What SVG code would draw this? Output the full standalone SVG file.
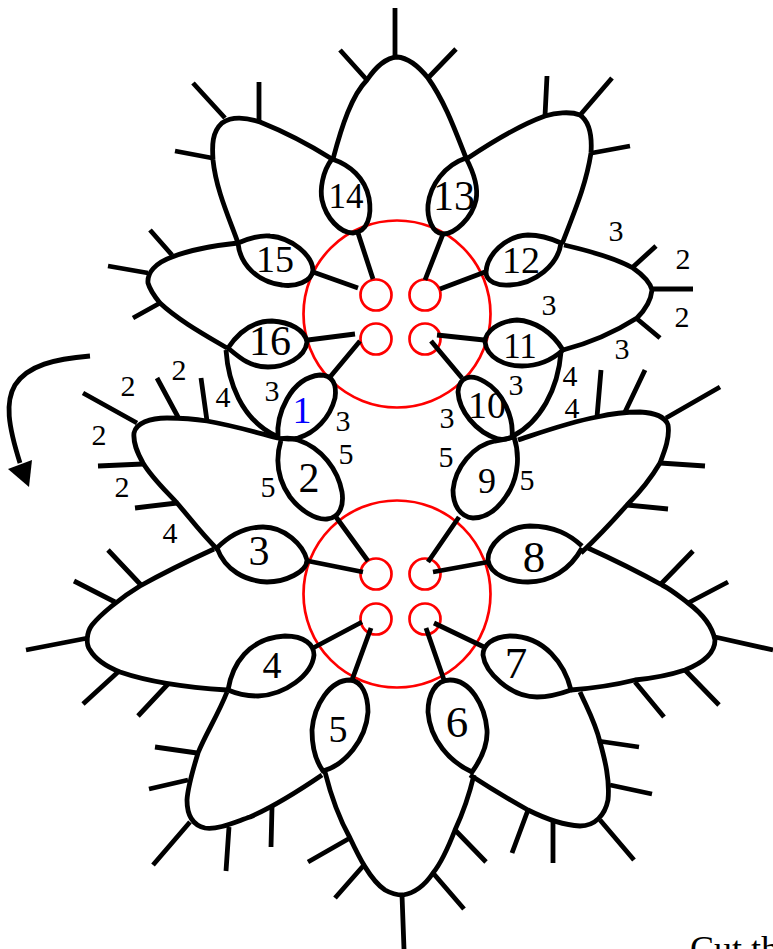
<svg xmlns="http://www.w3.org/2000/svg" width="773" height="949" viewBox="0 0 773 949">
<style>
.r{fill:none;stroke:#f00;stroke-width:2.7}
.k{fill:none;stroke:#000;stroke-width:4.8}
.p{fill:none;stroke:#000;stroke-width:4.8}
text{font-family:"Liberation Serif","Times New Roman",serif;fill:#000;text-anchor:middle}
.s{font-size:30px}
.m{font-size:38px}
.l{font-size:42px}
.x{font-size:45px}
</style>
<rect width="773" height="949" fill="#fff"/>
<g id="centers">
<circle class="r" cx="397" cy="314" r="93.500"/><circle class="r" cx="397" cy="594" r="93.500"/>
<circle class="r" cx="376" cy="295" r="15.500"/><circle class="r" cx="425" cy="295" r="15.500"/><circle class="r" cx="376" cy="339" r="15.500"/><circle class="r" cx="425" cy="339" r="15.500"/>
<circle class="r" cx="376" cy="574" r="15.500"/><circle class="r" cx="425" cy="574" r="15.500"/><circle class="r" cx="376" cy="619" r="15.500"/><circle class="r" cx="425" cy="619" r="15.500"/>
</g>
<g id="connectors">
<path class="p" d="M330,377L360,341M336,517L368,561M308,561L363,572M313,648L362,622M352,680L371,628M426,628L444,680M434,623L484,647M433,572L488,562M428,562L459,517M431,341L462,378M437,335L484,340M440,289L485,272M425,280L443,234M373,279L358,233M358,288L313,272M355,334L308,340"/>
<path class="p" d="M395,57L395,8M367,80L340,50M428,78L456,49M225,118L193,83M259,122L259,82M212,158L175,151M172,255L150,230M148,273L108,266M160,303L133,318M545,116L547,76M581,114L612,78M592,153L630,146M633,267L656,246M652,289L693,289M636,318L660,338M137,423L83,393M178,417L157,378M207,421L201,378M143,464L98,466M177,503L135,508M597,417L601,370M625,412L645,370M666,418L720,387M660,463L705,466M627,505L668,509M141,585L108,550M115,602L74,581M88,638L26,650M118,672L83,704M168,684L138,716M197,753L155,747M188,780L149,789M190,822L153,865M229,827L226,871M272,807L271,847M598,741L639,747M610,785L652,794M600,820L634,860M553,822L553,863M528,810L512,853M660,585L693,551M688,603L728,582M715,637L773,650M635,682L664,717M685,670L719,705M350,838L308,862M364,865L335,898M402,895L404,949M433,873L464,909M455,830L486,862"/>
<path class="k" d="M90,356C55,359 28,365 15,385C5,402 8,425 20,463"/>
<path d="M8,469L32,460L29,487Z" fill="#000"/>
</g>
<g id="chains">
<path class="k" d="M218,550C200,532 190,518 177,503C165,490 152,478 143,463C137,452 133,443 134,433C136,423 150,418 167,418C180,418 195,419 207,421C235,426 255,432 278,438"/>
<path class="k" d="M214,549C190,560 165,572 140,586C120,598 100,615 92,625C86,633 86,645 90,650C97,662 110,668 120,672C155,684 195,688 227,690"/>
<path class="k" d="M227,692C218,715 205,735 198,753C193,770 188,785 187,800C187,815 192,825 205,828C218,830 235,822 250,817C275,806 300,790 322,775"/>
<path class="k" d="M325,772C332,800 340,820 350,838C358,855 370,880 385,890C392,894 398,895 403,895C415,893 425,885 433,873C442,862 448,848 455,830C462,815 468,800 474,775"/>
<path class="k" d="M470,775C490,788 510,800 528,810C540,816 560,825 580,826C595,826 605,815 608,800C610,780 605,760 600,742C595,722 588,710 580,692"/>
<path class="k" d="M571,690C595,688 615,685 635,680C655,678 670,675 685,670C705,662 715,652 715,640C712,625 700,612 688,603C680,597 672,590 662,585C635,570 610,558 588,548"/>
<path class="k" d="M518,440C545,431 570,422 597,417C610,414 625,412 640,412C655,413 665,416 668,425C670,437 665,450 660,463C650,480 640,492 627,505C612,522 598,537 581,553"/>
<path class="k" d="M513,436C540,422 558,390 561,352"/>
<path class="k" d="M564,245C590,251 615,258 633,268C643,275 650,282 652,290C651,300 645,310 637,318C615,332 590,343 563,350"/>
<path class="k" d="M468,158C495,140 520,125 545,116C555,113 570,111 580,115C590,122 592,138 591,153C586,185 575,210 562,244"/>
<path class="k" d="M333,159C342,125 352,95 367,80C375,68 385,58 397,57C410,58 420,68 428,78C445,102 455,130 466,158"/>
<path class="k" d="M332,159C305,142 280,130 260,122C245,117 232,116 222,123C212,132 212,145 213,160C216,190 230,220 238,243"/>
<path class="k" d="M238,243C210,246 190,250 172,257C155,263 147,273 148,283C150,290 155,297 160,303C178,320 205,335 227,348"/>
<path class="k" d="M226,350C228,380 240,420 278,437"/>
</g>
<g id="ring-1"><path class="k" d="M278,438C276,415 290,378 320,375C333,375 337,385 335,398C330,418 315,433 298,438C290,440 283,439 278,438Z"/><text x="302" y="423" class="m" style="fill:#00f">1</text></g>
<g id="ring-2"><path class="k" d="M281,440C275,460 278,480 290,497C300,510 315,520 327,519C340,518 344,505 342,492C338,470 322,448 298,440C292,438 285,438 280,439"/><text x="309" y="492" class="l">2</text></g>
<g id="ring-3"><path class="k" d="M217,548C230,535 245,527 263,527C285,527 303,545 307,560C307,572 285,582 267,582C245,581 225,570 217,548Z"/><text x="259" y="565" class="l">3</text></g>
<g id="ring-4"><path class="k" d="M228,690C232,665 248,638 285,636C305,636 314,645 314,655C312,675 285,695 258,696C245,696 235,693 228,690Z"/><text x="272" y="678" class="m">4</text></g>
<g id="ring-5"><path class="k" d="M323,771C315,760 312,745 312,730C314,705 330,680 350,680C362,681 368,695 368,712C366,740 345,765 323,771Z"/><text x="338" y="742" class="m">5</text></g>
<g id="ring-6"><path class="k" d="M472,772C482,758 488,745 487,730C485,705 470,680 450,680C435,680 428,695 428,712C430,740 450,762 472,772Z"/><text x="457" y="737" class="x">6</text></g>
<g id="ring-7"><path class="k" d="M571,690C565,665 545,636 510,636C492,637 483,645 483,655C485,672 510,697 537,697C550,697 560,694 571,690Z"/><text x="516" y="678" class="x">7</text></g>
<g id="ring-8"><path class="k" d="M582,546C570,535 555,526 530,526C505,527 488,545 488,560C490,575 510,582 528,582C550,582 570,570 582,548"/><text x="534" y="572" class="x">8</text></g>
<g id="ring-9"><path class="k" d="M514,437C520,455 518,475 510,490C500,508 488,518 473,518C460,517 453,505 453,490C455,468 473,445 495,441C503,440 510,438 514,437Z"/><text x="487" y="493" style="font-size:36px">9</text></g>
<g id="ring-10"><path class="k" d="M512,437C514,418 503,392 485,382C470,373 459,377 458,392C459,410 475,432 498,439C505,440 510,438 512,437Z"/><text x="487" y="418" class="m">10</text></g>
<g id="ring-11"><path class="k" d="M563,350C552,332 535,321 517,320C498,321 485,332 485,342C487,358 505,366 522,366C540,366 552,360 563,350Z"/><text x="520" y="358" style="font-size:35px">11</text></g>
<g id="ring-12"><path class="k" d="M561,243C550,238 540,235 528,235C505,236 487,255 486,272C486,282 498,286 510,285C535,284 558,265 561,243Z"/><text x="521" y="273" class="m">12</text></g>
<g id="ring-13"><path class="k" d="M466,158C475,175 478,190 476,200C472,218 455,234 443,234C432,233 427,218 428,205C430,185 445,165 466,158Z"/><text x="454" y="210" class="l">13</text></g>
<g id="ring-14"><path class="k" d="M332,159C322,172 320,190 322,200C326,218 340,233 353,233C368,232 372,215 369,198C365,178 350,165 332,159Z"/><text x="346" y="208" style="font-size:35px">14</text></g>
<g id="ring-15"><path class="k" d="M238,243C250,238 262,235 270,236C292,238 312,255 313,270C312,282 295,287 282,285C258,282 240,265 238,243Z"/><text x="275" y="272" class="m">15</text></g>
<g id="ring-16"><path class="k" d="M228,348C240,330 255,321 272,321C290,322 305,330 307,342C305,358 285,367 268,367C250,367 240,358 228,348Z"/><text x="270" y="355" class="l">16</text></g>
<g id="labels">
<text x="128" y="396" class="s">2</text><text x="179" y="380" class="s">2</text><text x="223" y="407" class="s">4</text><text x="272" y="401" class="s">3</text><text x="343" y="431" class="s">3</text><text x="346" y="464" class="s">5</text><text x="268" y="497" class="s">5</text><text x="99" y="445" class="s">2</text><text x="122" y="497" class="s">2</text><text x="170" y="543" class="s">4</text>
<text x="616" y="241" class="s">3</text><text x="683" y="269" class="s">2</text><text x="682" y="327" class="s">2</text><text x="549" y="315" class="s">3</text><text x="622" y="359" class="s">3</text><text x="516" y="395" class="s">3</text><text x="570" y="386" class="s">4</text><text x="572" y="418" class="s">4</text><text x="447" y="428" class="s">3</text><text x="446" y="467" class="s">5</text><text x="527" y="490" class="s">5</text>
<text x="690" y="961" style="font-size:36px;text-anchor:start">Cut th</text>
</g>
</svg>
